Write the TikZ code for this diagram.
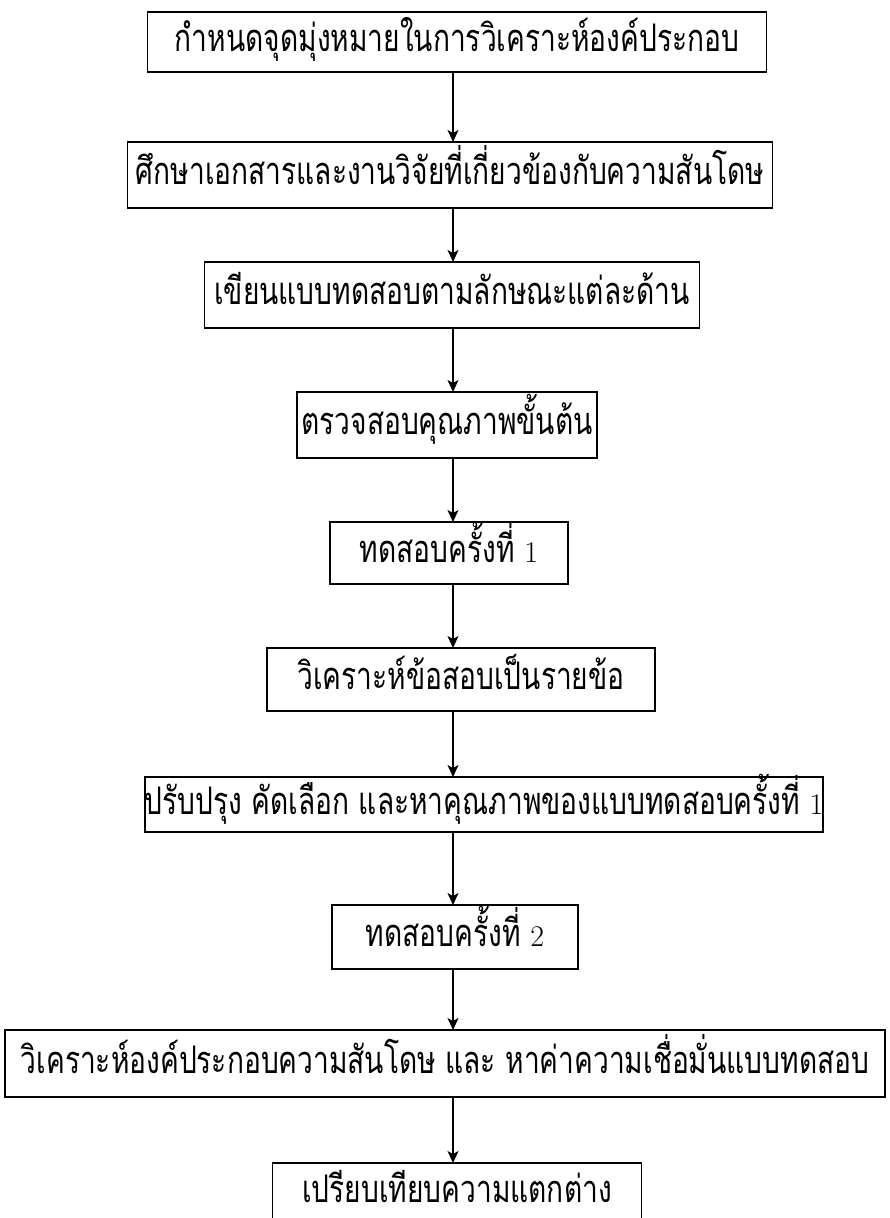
\documentclass[tikz,border=0pt]{standalone}
\usepackage{fontspec}
\usepackage{tikz}
\usetikzlibrary{positioning}
\usetikzlibrary{arrows.meta}
\newfontfamily\thaifont[Script=Thai,FakeStretch=0.74]{Loma}
\newcommand{\dg}[1]{{\normalfont\fontsize{30}{30}\selectfont #1}}
\tikzstyle{blk} = [rectangle, draw=black, line width=1.8pt, minimum height=64pt, inner sep=0pt, outer sep=0pt, font=\thaifont\fontsize{38}{38}\selectfont, text height=34pt, text depth=15pt, align=center]

\begin{document}
\begin{tikzpicture}[->,>={Stealth[length=12pt,width=11pt,inset=3pt]},line width=1.4pt,x=1pt,y=1pt]
\useasboundingbox (0,0) rectangle (890,-1218);
\clip (0,0) rectangle (890,-1218);
\coordinate (spine) at (453,0);
\node [blk, minimum width=619pt, minimum height=60pt] (aim) at (457,-42) {กำหนดจุดมุ่งหมายในการวิเคราะห์องค์ประกอบ};
\node [blk, minimum width=645pt, minimum height=66pt, below=70pt of aim, xshift=-7pt] (review) {ศึกษาเอกสารและงานวิจัยที่เกี่ยวข้องกับความสันโดษ};
\node [blk, minimum width=495pt, minimum height=66pt, below=54pt of review, xshift=2pt] (write) {เขียนแบบทดสอบตามลักษณะแต่ละด้าน};
\node [blk, minimum width=300pt, minimum height=66pt, below=64pt of write, xshift=-5pt] (check) {ตรวจสอบคุณภาพขั้นต้น};
\node [blk, minimum width=238pt, minimum height=62pt, below=64pt of check, xshift=2pt] (tryone) {ทดสอบครั้งที่ \dg{1}};
\node [blk, minimum width=388pt, minimum height=63pt, below=64pt of tryone, xshift=12pt] (itemana) {วิเคราะห์ข้อสอบเป็นรายข้อ};
\node [blk, minimum width=632pt, minimum height=55pt, below=66pt of itemana, xshift=23pt] (improve) {ปรับปรุง คัดเลือก และหาคุณภาพของแบบทดสอบครั้งที่ \dg{1}};
\node [blk, minimum width=246pt, minimum height=64pt, below=73pt of improve, xshift=-29pt] (trytwo) {ทดสอบครั้งที่ \dg{2}};
\node [blk, minimum width=880pt, minimum height=67pt, below=61pt of trytwo, xshift=-10pt] (factor) {วิเคราะห์องค์ประกอบความสันโดษ และ หาค่าความเชื่อมั่นแบบทดสอบ};
\node [blk, minimum width=369pt, minimum height=65pt, text height=26pt, text depth=13pt, below=66pt of factor, xshift=12pt] (compare) {เปรียบเทียบความแตกต่าง};
% arrows down the spine
\draw (aim.south -| spine) -- (review.north -| spine);
\draw (review.south -| spine) -- (write.north -| spine);
\draw (write.south -| spine) -- (check.north -| spine);
\draw (check.south -| spine) -- (tryone.north -| spine);
\draw (tryone.south -| spine) -- (itemana.north -| spine);
\draw (itemana.south -| spine) -- (improve.north -| spine);
\draw (improve.south -| spine) -- (trytwo.north -| spine);
\draw (trytwo.south -| spine) -- (factor.north -| spine);
\draw (factor.south -| spine) -- (compare.north -| spine);
\end{tikzpicture}
\end{document}
